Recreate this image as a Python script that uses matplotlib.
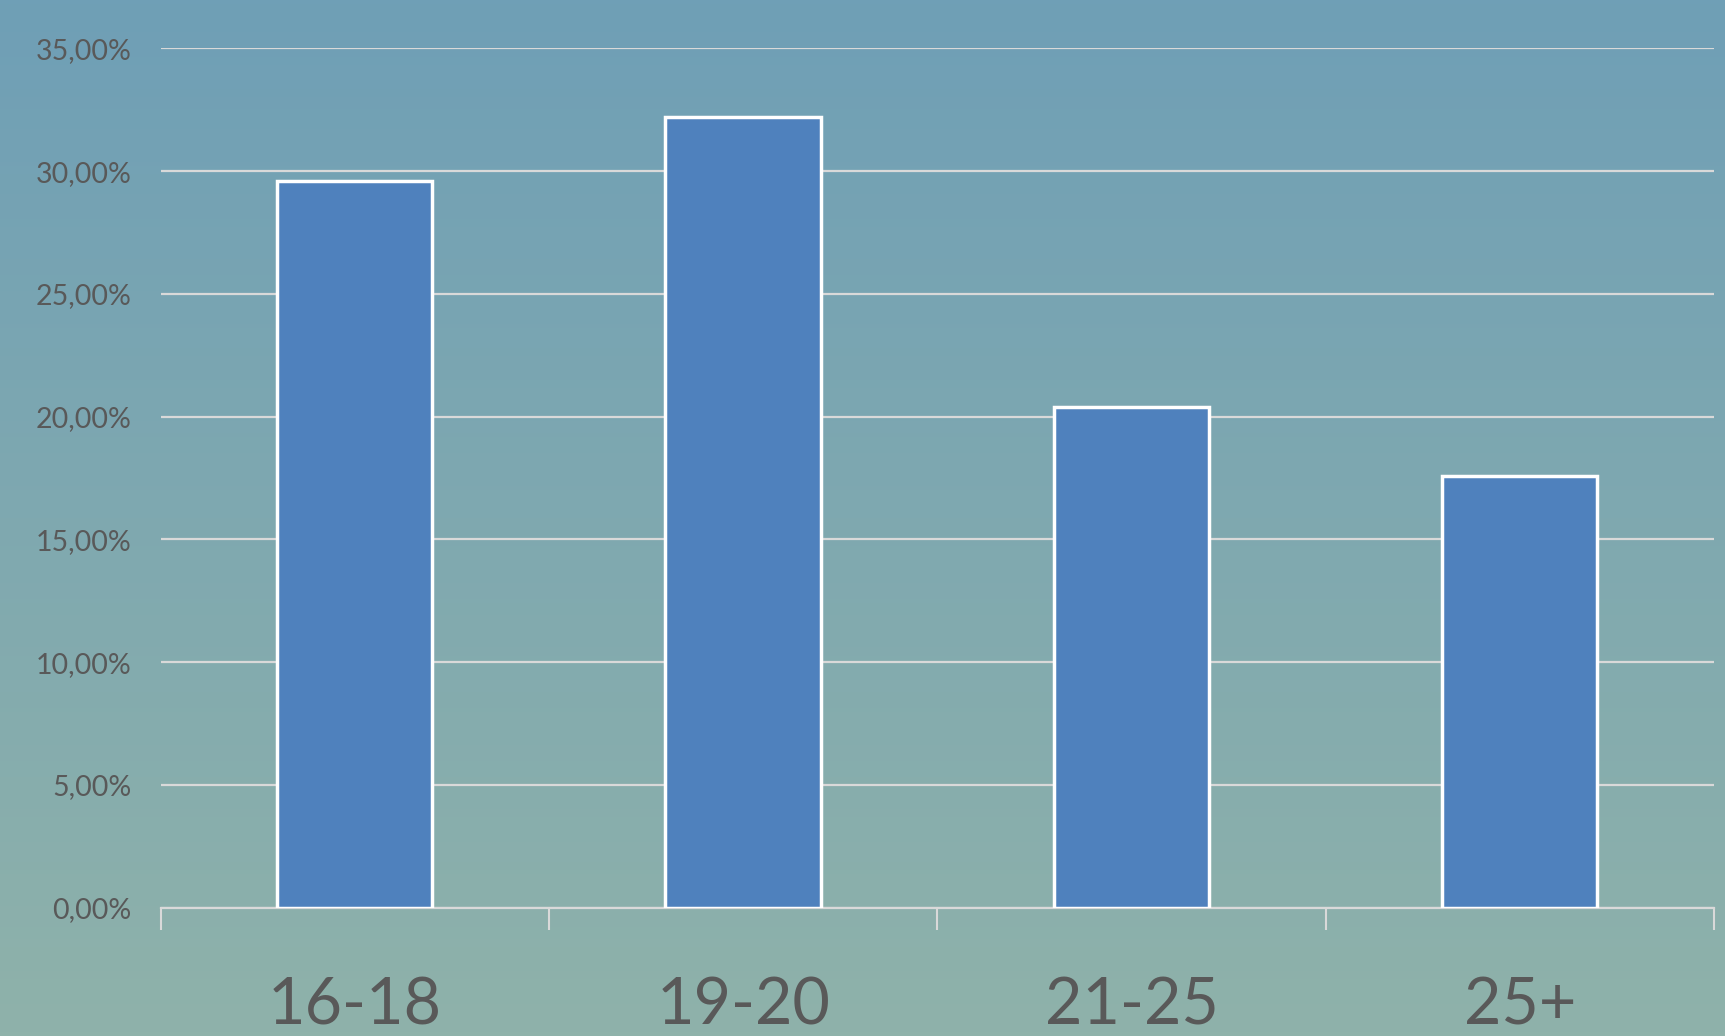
import numpy as np
import matplotlib
matplotlib.use("Agg")
import matplotlib.pyplot as plt
from matplotlib.colors import LinearSegmentedColormap

categories = ["16-18", "19-20", "21-25", "25+"]
values = [29.6, 32.2, 20.4, 17.6]
yticks = [0, 5, 10, 15, 20, 25, 30, 35]
ytick_labels = ["0,00%", "5,00%", "10,00%", "15,00%", "20,00%", "25,00%", "30,00%", "35,00%"]

plt.rcParams['font.family'] = ['Lato', 'DejaVu Sans']

fig = plt.figure(figsize=(17.25, 10.36), dpi=100)

# gradient background
bg = fig.add_axes([0, 0, 1, 1], zorder=-10)
cmap = LinearSegmentedColormap.from_list("bg", ["#6f9fb6", "#8fb2aa"])
grad = np.linspace(0, 1, 256).reshape(-1, 1)
bg.imshow(grad, aspect='auto', cmap=cmap, extent=[0, 1, 0, 1], origin='upper')
bg.set_axis_off()

ax = fig.add_axes([0.0931, 0.124, 0.9005, 0.8292])
ax.set_facecolor('none')
x = np.arange(len(categories))
ax.bar(x, values, width=0.4, color="#4f81bd", edgecolor="white", linewidth=2.5, zorder=3)

ax.set_xlim(-0.5, len(categories) - 0.5)
ax.set_ylim(0, 35)
ax.set_yticks(yticks)
ax.set_yticklabels(ytick_labels, fontsize=20.5, color="#595959")
ax.tick_params(axis='y', length=0, pad=21)
ax.yaxis.grid(True, color="#d9d9d9", linewidth=1.6, zorder=0)
ax.set_axisbelow(True)

ax.set_xticks(x)
ax.set_xticklabels(categories, fontsize=46.5, color="#595959")
ax.tick_params(axis='x', which='major', length=0, pad=50)
ax.set_xticks(np.arange(-0.5, len(categories)), minor=True)
ax.tick_params(axis='x', which='minor', length=16, width=1.5, color="#d9d9d9", direction='out')

for s in ['top', 'right', 'left']:
    ax.spines[s].set_visible(False)
ax.spines['bottom'].set_color("#d9d9d9")
ax.spines['bottom'].set_linewidth(1.6)

fig.savefig("out.png", dpi=100)
